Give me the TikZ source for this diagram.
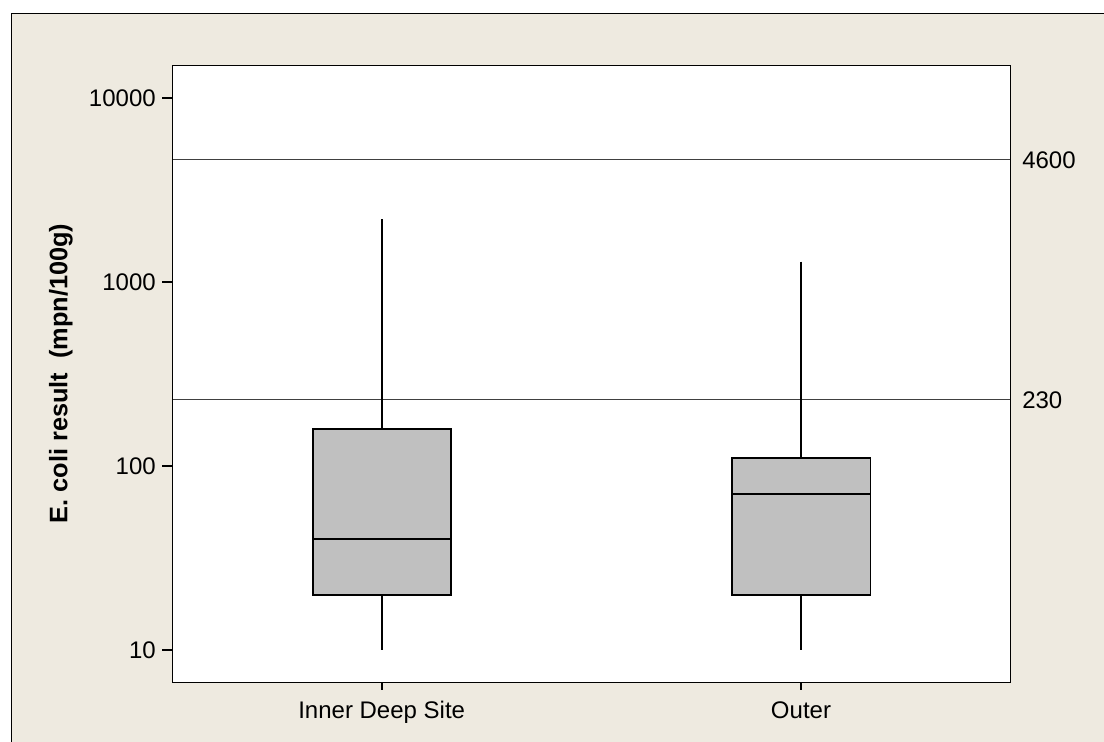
\documentclass[tikz,border=0pt]{standalone}
\usepackage{fontspec}
\setmainfont{Liberation Sans}
\definecolor{bg}{RGB}{238,234,224}
\definecolor{boxgray}{RGB}{192,192,192}
\definecolor{refgray}{RGB}{64,64,64}
\tikzset{
  frameline/.style={line width=1.4pt, black},
  refline/.style={line width=1.2pt, refgray},
  whisk/.style={line width=1.4pt, black},
  qbox/.style={line width=1.4pt, black, fill=boxgray},
  ticklab/.style={font=\fontsize{18}{20}\selectfont, inner sep=0pt},
}
\begin{document}
\begin{tikzpicture}[x=0.75pt,y=-0.75pt]
\useasboundingbox (0,0) rectangle (1104,742);
\fill[white] (0,0) rectangle (1104,742);
\fill[bg] (11.5,13.5) rectangle (1104,742);
\draw[frameline] (11.5,742) -- (11.5,13.5) -- (1104,13.5);
% plot area
\fill[white] (172.5,65.5) rectangle (1010.5,682.5);
% reference lines
\coordinate (r1l) at (172.5,159.5);
\coordinate (r1r) at (1010.5,159.5);
\coordinate (r2l) at (172.5,399.5);
\coordinate (r2r) at (1010.5,399.5);
\draw[refline] (r1l) -- (r1r);
\draw[refline] (r2l) -- (r2r);
% Inner Deep Site
\coordinate (aTop) at (381.7,219);
\coordinate (aQ3) at (381.7,428.7);
\coordinate (aQ1) at (381.7,594.6);
\coordinate (aBot) at (381.7,650);
\draw[whisk] (aTop) -- (aQ3);
\draw[whisk] (aQ1) -- (aBot);
\draw[qbox] (312.7,428.7) rectangle (451.3,594.6);
\draw[whisk] (312.7,539.2) -- (451.3,539.2);
% Outer
\coordinate (bTop) at (801,261.7);
\coordinate (bQ3) at (801,457.7);
\coordinate (bQ1) at (801,594.6);
\coordinate (bBot) at (801,650);
\draw[whisk] (bTop) -- (bQ3);
\draw[whisk] (bQ1) -- (bBot);
\draw[qbox] (731.7,457.7) rectangle (870.5,594.6);
\draw[whisk] (731.7,494.3) -- (870.5,494.3);
% frame
\draw[frameline] (172.5,65.5) rectangle (1010.5,682.5);
% y ticks
\foreach \yy/\lab/\nm in {98/10000/t4, 282/1000/t3, 466/100/t2, 650/10/t1}{
  \draw[frameline] (162,\yy) -- (172.5,\yy);
  \node[ticklab, anchor=east] (\nm) at (156,\yy) {\lab};
}
% x ticks
\draw[frameline] (381.7,682.5) -- (381.7,690);
\draw[frameline] (801,682.5) -- (801,690);
\node[ticklab, anchor=base] (c1) at (381.7,718) {Inner Deep Site};
\node[ticklab, anchor=base] (c2) at (801,718) {Outer};
% right labels
\node[ticklab, anchor=west] (l4600) at (1022,160) {4600};
\node[ticklab, anchor=west] (l230) at (1022,400) {230};
% y label
\node[rotate=90, font=\fontsize{19}{21}\selectfont\bfseries, inner sep=0pt] (ylab) at (61,373.5) {E. coli result \ (mpn/100g)};
\end{tikzpicture}
\end{document}
